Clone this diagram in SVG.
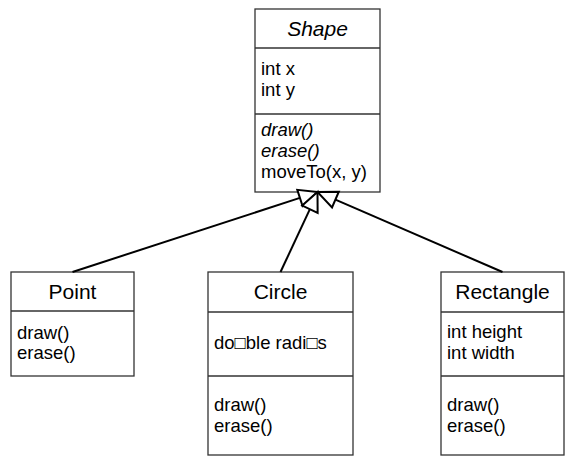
<svg xmlns="http://www.w3.org/2000/svg" width="568" height="459" viewBox="0 0 568 459">
<style>
.box{fill:#fff;stroke:#333;stroke-width:1.3}
.div{stroke:#333;stroke-width:1.3}
.hd{font-family:"Liberation Sans",Arial,sans-serif;font-size:21px;fill:#000;text-anchor:middle}
.mb{font-family:"Liberation Sans",Arial,sans-serif;font-size:18.5px;fill:#000}
.it{font-style:italic}
.con line{stroke:#000;stroke-width:2}
.con polygon{fill:#fff;stroke:#000;stroke-width:2;stroke-linejoin:miter}
</style>
<rect width="568" height="459" fill="#fff"/>
<g id="Shape">
<rect class="box" x="255" y="9" width="125" height="183"/>
<line class="div" x1="255" y1="48" x2="380" y2="48"/>
<line class="div" x1="255" y1="114" x2="380" y2="114"/>
<text class="hd it" x="317.5" y="35.5">Shape</text>
<text class="mb" x="261" y="75">int x</text>
<text class="mb" x="261" y="95.5">int y</text>
<text class="mb it" x="261" y="136">draw()</text>
<text class="mb it" x="261" y="157">erase()</text>
<text class="mb" x="261" y="178">moveTo(x, y)</text>
</g>
<g id="Point">
<rect class="box" x="11" y="272" width="123" height="104"/>
<line class="div" x1="11" y1="311" x2="134" y2="311"/>
<text class="hd" x="72.5" y="298.5">Point</text>
<text class="mb" x="17" y="338.5">draw()</text>
<text class="mb" x="17" y="359">erase()</text>
</g>
<g id="Circle">
<rect class="box" x="208" y="272" width="145" height="183"/>
<line class="div" x1="208" y1="312" x2="353" y2="312"/>
<line class="div" x1="208" y1="376" x2="353" y2="376"/>
<text class="hd" x="280.5" y="299">Circle</text>
<text class="mb" x="214" y="349">do□ble radi□s</text>
<text class="mb" x="214" y="410.5">draw()</text>
<text class="mb" x="214" y="432">erase()</text>
</g>
<g id="Rectangle">
<rect class="box" x="441" y="272" width="123" height="183"/>
<line class="div" x1="441" y1="312" x2="564" y2="312"/>
<line class="div" x1="441" y1="376" x2="564" y2="376"/>
<text class="hd" x="502.5" y="299">Rectangle</text>
<text class="mb" x="447" y="338">int height</text>
<text class="mb" x="447" y="359">int width</text>
<text class="mb" x="447" y="410.5">draw()</text>
<text class="mb" x="447" y="432">erase()</text>
</g>
<g id="connectors" class="con">
<line x1="72.5" y1="272" x2="299.9" y2="197.9"/>
<line x1="502.5" y1="272" x2="335.4" y2="199.6"/>
<line x1="280.5" y1="272" x2="309.9" y2="209.2"/>
<polygon points="317.5,192 302.56,205.97 297.30,189.81"/>
<polygon points="317.5,192 338.81,191.76 332.05,207.36"/>
<polygon points="317.5,192 317.64,212.8 302.24,205.6"/>
</g>
</svg>
